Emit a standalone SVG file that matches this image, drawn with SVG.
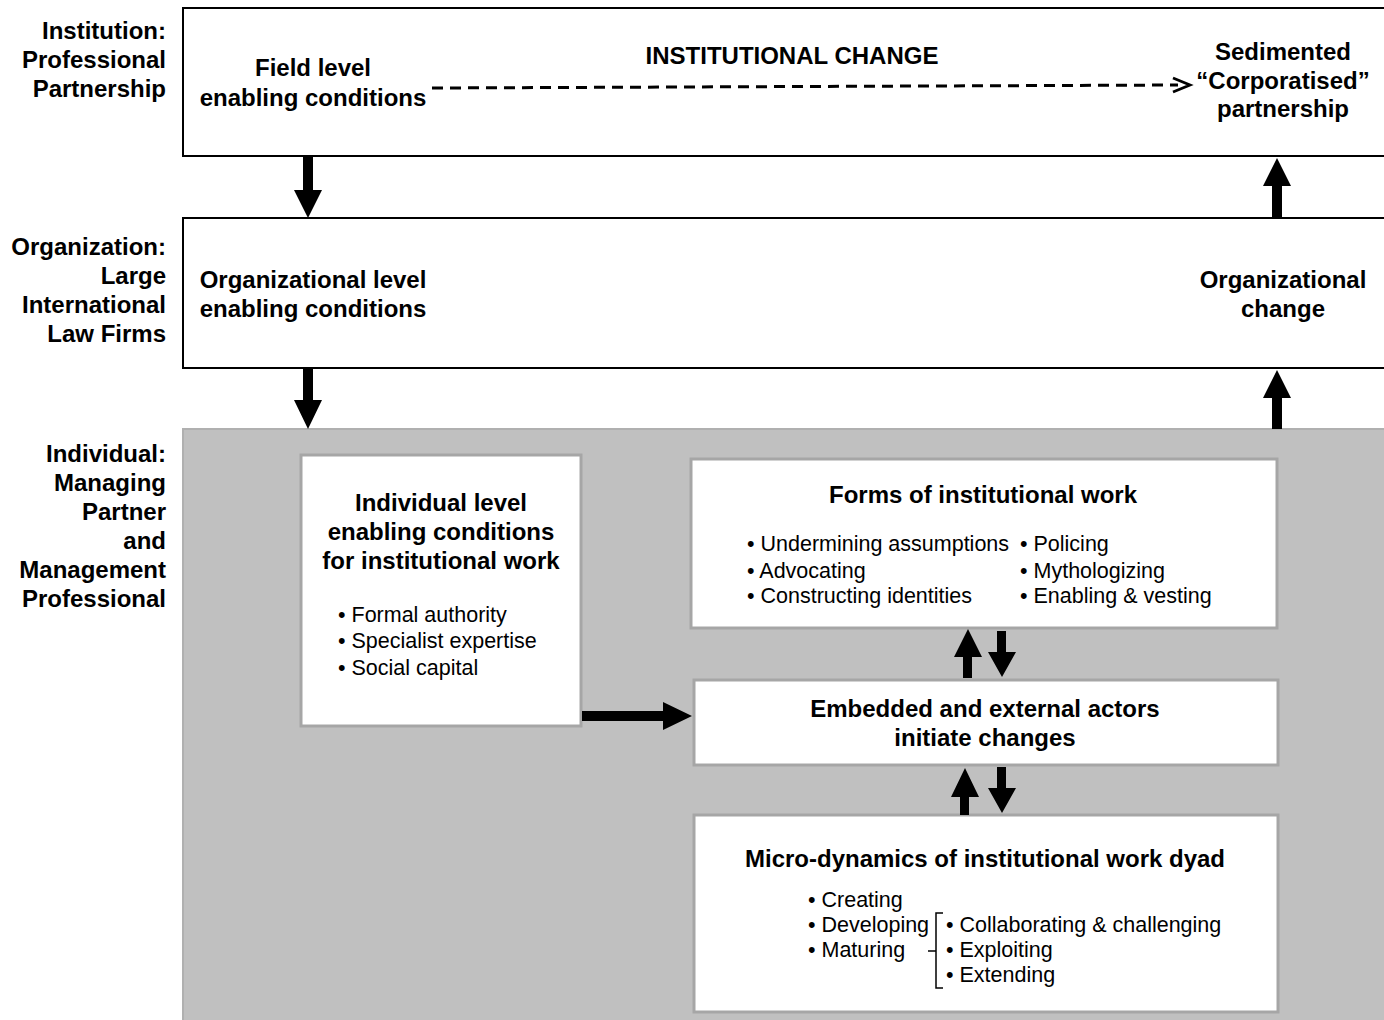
<svg xmlns="http://www.w3.org/2000/svg" width="1384" height="1020" viewBox="0 0 1384 1020">
<style>
.b{font-family:"Liberation Sans",Arial,sans-serif;font-weight:bold;font-size:24px;fill:#000}
.r{font-family:"Liberation Sans",Arial,sans-serif;font-size:21.5px;fill:#000}
.lab{text-anchor:end}
.c{text-anchor:middle}
.lvl{fill:#fff;stroke:#000;stroke-width:2}
.inner{fill:#fff;stroke:#a6a6a6;stroke-width:3}
.arr{fill:#000}
</style>
<rect width="1384" height="1020" fill="#fff"/>
<g id="labels">
<text class="b lab" x="166" y="38.5">Institution:</text>
<text class="b lab" x="166" y="67.5">Professional</text>
<text class="b lab" x="166" y="96.5">Partnership</text>
<text class="b lab" x="166" y="254.5">Organization:</text>
<text class="b lab" x="166" y="283.5">Large</text>
<text class="b lab" x="166" y="312.5">International</text>
<text class="b lab" x="166" y="341.5">Law Firms</text>
<text class="b lab" x="166" y="461.5">Individual:</text>
<text class="b lab" x="166" y="490.5">Managing</text>
<text class="b lab" x="166" y="519.5">Partner</text>
<text class="b lab" x="166" y="548.5">and</text>
<text class="b lab" x="166" y="577.5">Management</text>
<text class="b lab" x="166" y="606.5">Professional</text>
</g>
<g id="institution">
<rect class="lvl" x="183" y="8" width="1210" height="148"/>
<text class="b c" x="313" y="76">Field level</text>
<text class="b c" x="313" y="106">enabling conditions</text>
<text class="b c" x="792" y="64">INSTITUTIONAL CHANGE</text>
<text class="b c" x="1283" y="60">Sedimented</text>
<text class="b c" x="1283" y="88.5">“Corporatised”</text>
<text class="b c" x="1283" y="117">partnership</text>
</g>
<g id="organization">
<rect class="lvl" x="183" y="218" width="1210" height="150"/>
<text class="b c" x="313" y="288">Organizational level</text>
<text class="b c" x="313" y="317">enabling conditions</text>
<text class="b c" x="1283" y="288">Organizational</text>
<text class="b c" x="1283" y="317">change</text>
</g>
<g id="individual-level">
<rect x="183" y="429" width="1210" height="600" fill="#c0c0c0" stroke="#b0b0b0" stroke-width="2"/>
</g>
<g id="individual-conditions">
<rect class="inner" x="301" y="455" width="280" height="271"/>
<text class="b c" x="441" y="511">Individual level</text>
<text class="b c" x="441" y="540">enabling conditions</text>
<text class="b c" x="441" y="569">for institutional work</text>
<text class="r" x="338" y="621.5">• Formal authority</text>
<text class="r" x="338" y="647.5">• Specialist expertise</text>
<text class="r" x="338" y="674.5">• Social capital</text>
</g>
<g id="forms">
<rect class="inner" x="691" y="459" width="586" height="169"/>
<text class="b c" x="983" y="503">Forms of institutional work</text>
<text class="r" x="747" y="550.5">• Undermining assumptions</text>
<text class="r" x="747" y="577.5">• Advocating</text>
<text class="r" x="747" y="602.5">• Constructing identities</text>
<text class="r" x="1020" y="550.5">• Policing</text>
<text class="r" x="1020" y="577.5">• Mythologizing</text>
<text class="r" x="1020" y="602.5">• Enabling &amp; vesting</text>
</g>
<g id="embedded">
<rect class="inner" x="694" y="680" width="584" height="85"/>
<text class="b c" x="985" y="717">Embedded and external actors</text>
<text class="b c" x="985" y="746">initiate changes</text>
</g>
<g id="micro">
<rect class="inner" x="694" y="815" width="584" height="197"/>
<text class="b c" x="985" y="867">Micro-dynamics of institutional work dyad</text>
<text class="r" x="808" y="907">• Creating</text>
<text class="r" x="808" y="932">• Developing</text>
<text class="r" x="808" y="957">• Maturing</text>
<text class="r" x="946" y="932">• Collaborating &amp; challenging</text>
<text class="r" x="946" y="957">• Exploiting</text>
<text class="r" x="946" y="982">• Extending</text>
<path d="M943 913 H936 V988 H943 M928 951 H936" fill="none" stroke="#000" stroke-width="1.5"/>
</g>
<g id="connectors">
<path d="M432 88 L1178 85" fill="none" stroke="#000" stroke-width="3" stroke-dasharray="11 7"/>
<path d="M1173 78 L1190 85 L1173 92" fill="none" stroke="#000" stroke-width="2.8"/>
<path class="arr" d="M303 157 H313 V190 H322 L308 218 L294 190 H303 Z"/>
<path class="arr" d="M303 369 H313 V400 H322 L308 429 L294 400 H303 Z"/>
<path class="arr" d="M1272 218 H1282 V186 H1291 L1277 158 L1263 186 H1272 Z"/>
<path class="arr" d="M1272 429 H1282 V398 H1291 L1277 370 L1263 398 H1272 Z"/>
<path class="arr" d="M582 711 V721 H663 V730 L692 716 L663 702 V711 Z"/>
<path class="arr" d="M963 678 V657 H954 L968 629 L982 657 H972 V678 Z"/>
<path class="arr" d="M997 631 V652 H988 L1002 677 L1016 652 H1006 V631 Z"/>
<path class="arr" d="M960 815 V797 H951 L965 768 L979 797 H969 V815 Z"/>
<path class="arr" d="M997 767 V788 H988 L1002 813 L1016 788 H1006 V767 Z"/>
</g>
</svg>
